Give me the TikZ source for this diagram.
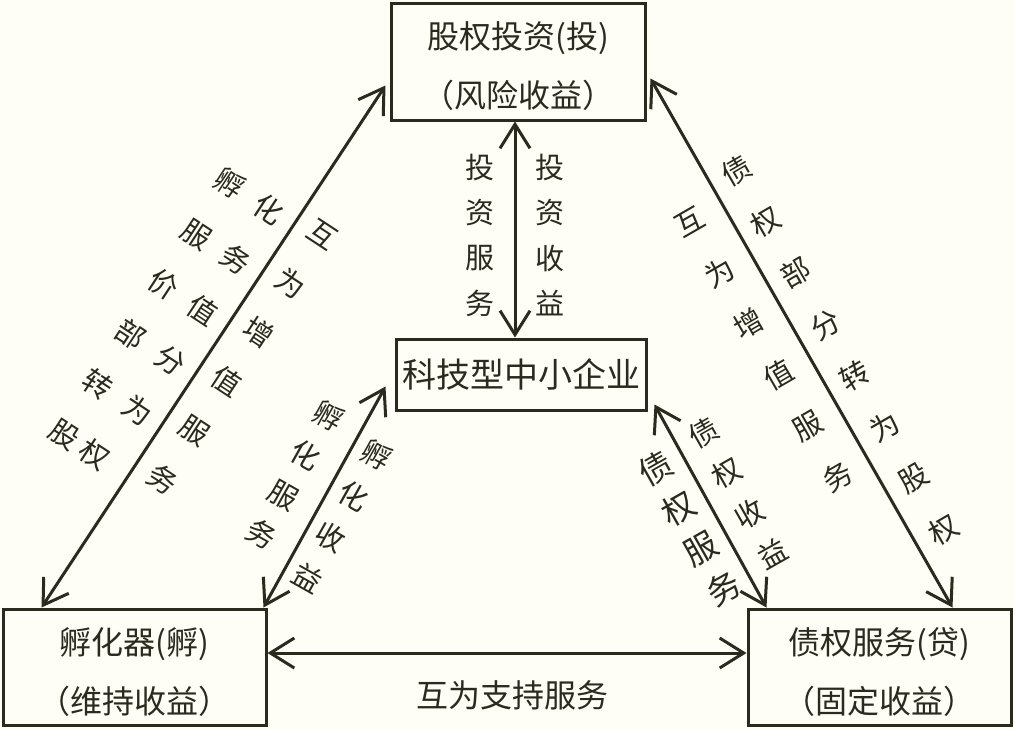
\documentclass[tikz,border=0pt]{standalone}
\usepackage{fontspec}
\usepackage{tikz}
\usetikzlibrary{arrows.meta}
\newfontfamily\cjk{Noto Sans CJK SC}
\definecolor{paper}{HTML}{FFFEF6}
\definecolor{ink}{HTML}{2B2A1E}
\tikzset{
    box/.style={rectangle, draw=ink, line width=3pt, inner sep=0pt,
    	align=center, text=ink, font=\cjk\fontsize{32}{59}\selectfont},
    twoline/.style={box, minimum height=116pt, text height=96pt}
}
\tikzset{
    tag/.style={inner sep=0pt, align=center, text=ink,
    	font=\cjk\fontsize{29}{46}\selectfont}
}
\tikzset{
    every edge/.append style={line width=3pt, draw=ink}
}
\tikzset{
	>={Straight Barb[length=24pt, width=30pt]}
}

\begin{document}
\begin{tikzpicture}[x=1pt, y=-1pt]
  \fill[paper] (0,0) rectangle (1015,729);
  \useasboundingbox (0,0) rectangle (1015,729);

  \node (invest) [twoline, minimum width=254pt, minimum height=117pt] at (518, 61.5) {股权投资(投)\\（风险收益）};
  \node (sme) [box, minimum width=250pt, minimum height=71pt,
    font=\cjk\fontsize{34}{40}\selectfont] at (521, 374.5) {科技型中小企业};
  \node (incub) [twoline, minimum width=263pt] at (134.5, 667) {孵化器(孵)\\（维持收益）};
  \node (loan) [twoline, minimum width=263pt] at (879.5, 667) {债权服务(贷)\\（固定收益）};

  \draw ([xshift=40pt]incub.north west) edge[<->] ([xshift=-4pt, yshift=36pt]invest.south west);
  \draw ([xshift=4pt, yshift=43pt]invest.south east) edge[<->] ([xshift=206pt]loan.north west);
  \draw ([xshift=-3pt]invest.south) edge[<->] ([xshift=-6pt]sme.north);
  \draw ([xshift=-9pt, yshift=25pt]sme.south west) edge[<->] ([xshift=-4pt]incub.north east);
  \draw ([xshift=7pt, yshift=7pt]sme.south east) edge[<->] ([xshift=20pt]loan.north west);
  \draw ([yshift=14pt]incub.east) edge[<->] ([yshift=14pt]loan.west);

  % labels of the left side
  \node (incubgain) [tag, rotate=-33.3, align=left, font=\cjk\fontsize{29}{60}\selectfont] at (167, 322)
    {孵\hspace{18pt}化\\服\hspace{18pt}务\\价\hspace{18pt}值\\部\hspace{18pt}分\\转\hspace{18pt}为\\股\hspace{7pt}权};
  \node (incubadd) [tag, rotate=-33.3, font=\cjk\fontsize{29}{58.4}\selectfont] at (242.1, 357.4)
    {互\\为\\增\\值\\服\\务};
  \node (incubserv) [tag, rotate=-29.4, font=\cjk\fontsize{29}{45}\selectfont] at (295, 474.9) {孵\\化\\服\\务};
  \node (incubret) [tag, rotate=-29.4, font=\cjk\fontsize{29}{47}\selectfont] at (342, 516) {孵\\化\\收\\益};

  % labels of the middle
  \node (investserv) [tag, font=\cjk\fontsize{29}{45.3}\selectfont] at (480, 235) {投\\资\\服\\务};
  \node (investret) [tag, font=\cjk\fontsize{29}{45.3}\selectfont] at (550, 235) {投\\资\\收\\益};

  % labels of the right side
  \node (loanadd) [tag, rotate=30, font=\cjk\fontsize{29}{59}\selectfont] at (763.7, 349.8)
    {互\\为\\增\\值\\服\\务};
  \node (loangain) [tag, rotate=30, font=\cjk\fontsize{29}{59.2}\selectfont] at (839.9, 349.9)
    {债\\权\\部\\分\\转\\为\\股\\权};
  \node (loanserv) [tag, rotate=29.5, font=\cjk\fontsize{33}{46}\selectfont] at (689.7, 528.7) {债\\权\\服\\务};
  \node (loanret) [tag, rotate=29.5, font=\cjk\fontsize{29}{46.3}\selectfont] at (737.9, 492.8) {债\\权\\收\\益};

  \node (support) [tag, font=\cjk\fontsize{32}{40}\selectfont] at (512, 695) {互为支持服务};
\end{tikzpicture}
\end{document}
